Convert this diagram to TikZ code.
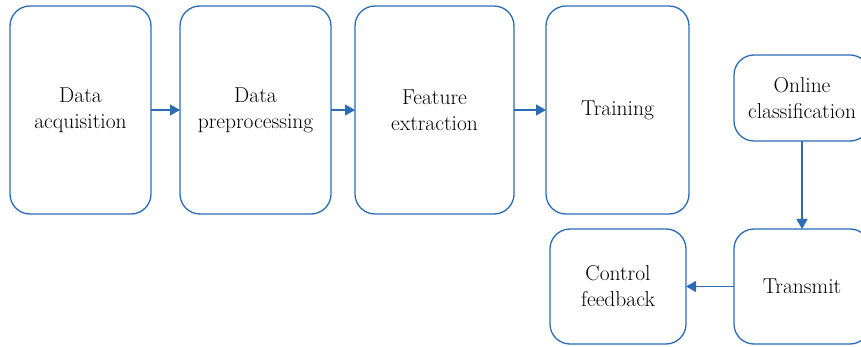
\documentclass[tikz,border=0pt]{standalone}
\usepackage{tikz}
\usetikzlibrary{arrows.meta,positioning}
\definecolor{flowblue}{RGB}{42,108,182}

\begin{document}
\begin{tikzpicture}[x=1pt, y=1pt,
        box/.style = {draw=flowblue, line width=1.3pt, rounded corners=20pt, align=center,
                      font=\fontsize{21.5}{26}\selectfont, inner sep=0pt, outer sep=0pt},
        tall/.style = {box, minimum height=208pt},
        flow/.style = {draw=flowblue, line width=1.2pt, -{Triangle[length=10pt, width=11pt]}}]
    \useasboundingbox (0,0) rectangle (861,-347);
    % top row
    \node [tall, minimum width=141pt] (acq) at (80.5,-110) {Data\\acquisition};
    \node [tall, minimum width=151pt, right=29pt of acq] (pre) {Data\\preprocessing};
    \node [tall, minimum width=159pt, right=24pt of pre] (feat) {Feature\\extraction};
    \node [tall, minimum width=143pt, right=32pt of feat] (train) {Training};
    % online part
    \node [box, minimum width=136pt, minimum height=86pt] (online) at (802,-98) {Online\\classification};
    \node [box, minimum width=136pt, minimum height=115pt, below=88pt of online] (send) {Transmit};
    \node [box, minimum width=136pt, minimum height=115pt, left=48pt of send] (ctrl) {Control\\feedback};
    \draw [flow] (acq) -- (pre);
    \draw [flow] (pre) -- (feat);
    \draw [flow] (feat) -- (train);
    \draw [flow] (online) -- (send);
    \draw [flow] (send) -- (ctrl);
\end{tikzpicture}
\end{document}
